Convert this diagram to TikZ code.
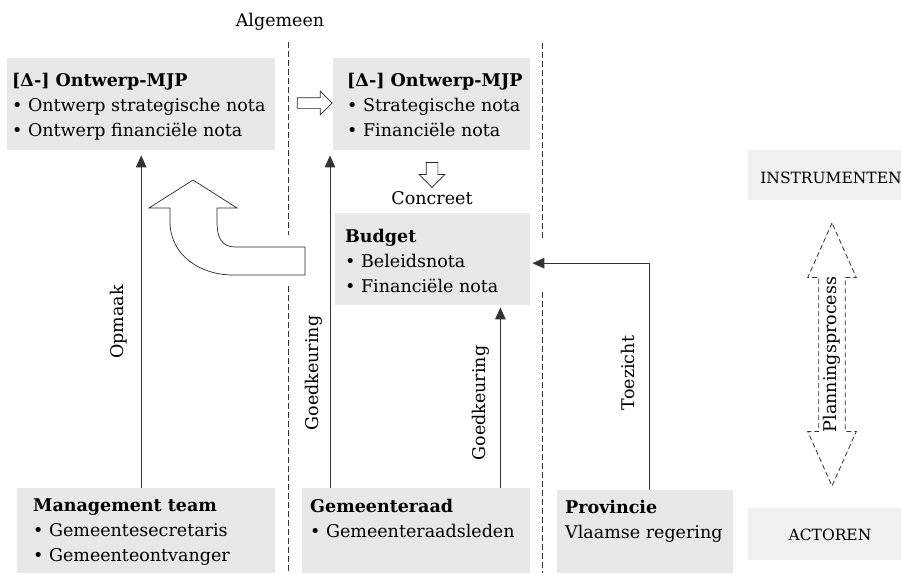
\documentclass[tikz,border=0pt]{standalone}
\usepackage{fontspec}
\setmainfont{DejaVu Serif}
\usetikzlibrary{arrows.meta, positioning, shapes.arrows}

\begin{document}
\begin{tikzpicture}[
            x=1pt, y=-1pt,
            font=\fontsize{17.5}{25}\selectfont,
            blok/.style={
                rectangle,
                fill=black!9,
                anchor=north west,
                inner sep=0pt
            },
            tekst/.style={
                anchor=north west,
                align=left,
                inner sep=0pt
            },
            bijschrift/.style={
                rotate=90,
                inner sep=0pt
            },
            pijl/.style={
                draw=black!80,
                line width=0.9pt,
                -{Triangle[length=12pt, width=10.5pt]}
            },
            grens/.style={
                draw=black!80,
                line width=0.9pt,
                dash pattern=on 6pt off 3pt
            },
            holpijl/.style={
                single arrow,
                draw=black!85,
                fill=white,
                line width=0.7pt,
                inner sep=5pt
            }
        ]
        \useasboundingbox (0,0) rectangle (901,573);

        % Separators
        \draw[grens] (288,42) -- (288,235);
        \draw[grens] (288,286) -- (288,573);
        \draw[grens] (542,43) -- (542,240);
        \draw[grens] (542,292) -- (542,573);

        \node (alg) at (280,22) {Algemeen};

        % Instruments
        \node[blok, minimum width=268, minimum height=92] (mjp1) at (7,58) {};
        \node[tekst] (mjp1tekst) at (12,73.5) {\textbf{[Δ-] Ontwerp-MJP}\\• Ontwerp strategische nota\\• Ontwerp financiële nota};
        \node[blok, minimum width=197, minimum height=92] (mjp2) at (333,58) {};
        \node[tekst] (mjp2tekst) at (347,73.5) {\textbf{[Δ-] Ontwerp-MJP}\\• Strategische nota\\• Financiële nota};
        \node[blok, minimum width=195, minimum height=92] (budget) at (335,213) {};
        \node[tekst] (budgettekst) at (345,228.5) {\textbf{Budget}\\• Beleidsnota\\• Financiële nota};

        \node[holpijl, minimum height=35, single arrow head extend=6.5pt] (naar) at (312,103) {};
        \node[holpijl, minimum height=25, inner sep=5.5pt, single arrow head extend=7pt, shape border rotate=270] (omlaag) at (432,172) {};
        \node (concr) at (432,198) {Concreet};

        % Actors
        \node[blok, minimum width=258, minimum height=85] (mt) at (17,488) {};
        \node[tekst] (mttekst) at (33,498.5) {\textbf{Management team}\\• Gemeentesecretaris\\• Gemeenteontvanger};
        \node[blok, minimum width=228, minimum height=85] (raad) at (302,488) {};
        \node[tekst] (raadtekst) at (310,498.5) {\textbf{Gemeenteraad}\\• Gemeenteraadsleden};
        \node[blok, minimum width=176, minimum height=83] (prov) at (557,490) {};
        \node[tekst] (provtekst) at (565,499.5) {\textbf{Provincie}\\Vlaamse regering};

        \node[blok, fill=black!6, minimum width=153, minimum height=50] (instr) at (748,150) {};
        \node[font=\fontsize{15.5}{20}\selectfont] (instrtekst) at (831,178) {INSTRUMENTEN};
        \node[blok, fill=black!6, minimum width=153, minimum height=52] (act) at (748,508) {};
        \node[font=\fontsize{15.5}{20}\selectfont] (acttekst) at (830,535) {ACTOREN};

        % Curved arrow
        \draw[black!85, line width=0.7pt, fill=white] (193,180) -- (237,208) -- (217,208) -- (217,222)
            .. controls (217,238) and (222,247) .. (235,247) -- (305,247) -- (305,275) -- (233,275)
            .. controls (200,275) and (170,255) .. (170,222) -- (170,208) -- (149,208) -- cycle;

        % Connections
        \coordinate (goed1) at ([xshift=-3pt,yshift=-5pt]mjp2.south west);
        \coordinate (goed2) at ([xshift=-30pt,yshift=-2pt]budget.south east);
        \coordinate (tz) at ([xshift=2pt,yshift=-4pt]budget.east);
        \draw[pijl] (mt.north -| mjp1.south) -- ([yshift=-5pt]mjp1.south);
        \draw[pijl] (raad.north -| goed1) -- (goed1);
        \draw[pijl] (raad.north -| goed2) -- (goed2);
        \draw[pijl] ([xshift=4pt]prov.north) |- (tz);

        \node[bijschrift] (opm) at (119,322) {Opmaak};
        \node[bijschrift] (goedk1) at (314,373) {Goedkeuring};
        \node[bijschrift] (goedk2) at (481,403) {Goedkeuring};
        \node[bijschrift] (toez) at (628,373) {Toezicht};

        % Planning process
        \node[double arrow, draw=black!80, line width=0.8pt, dash pattern=on 5pt off 3pt,
              rotate=90, minimum height=263, inner xsep=0pt, inner ysep=4.3pt,
              double arrow head extend=11pt, double arrow tip angle=48] (proces) at (832,354.5) {Planningsprocess};

        \end{tikzpicture}
\end{document}
